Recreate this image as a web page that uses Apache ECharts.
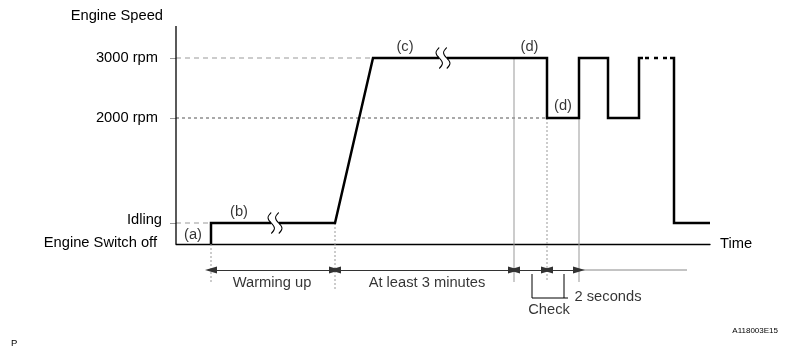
<!DOCTYPE html>
<html>
<head>
<meta charset="utf-8">
<script src="https://cdn.jsdelivr.net/npm/echarts@6/dist/echarts.min.js"></script>
<style>
  html, body { margin: 0; padding: 0; background: #fff; }
  #main { width: 788px; height: 356px; }
</style>
</head>
<body>
<div id="main"></div>
<script>
// schematic units: x = time, y = engine speed level (switch off = 0)
var yTickValues = [0, 21, 126, 186];
var yTickLabels = ['Engine Switch off', 'Idling', '2000 rpm', '3000 rpm'];

// engine speed trace ('-' = break mark on the line)
var traceTime  = [35, 35, 95, '-', 103, 159, 197, 263, '-', 271, 371, 371, 403, 403, 432, 432, 463, 463, 467];
var traceLevel = [0, 21, 21, '-', 21, 21, 186, 186, '-', 186, 186, 126, 126, 186, 186, 126, 126, 186, 186];
var dashTime  = [469, 493];
var dashLevel = [186, 186];
var tailTime  = [494, 498, 498, 534];
var tailLevel = [186, 186, 21, 21];

var breakTime  = [99, 267];
var breakLevel = [21, 186];

// dashed level guides
var hGuideLevel = [186, 126, 21];
var hGuideEnd   = [197, 371, 35];

// vertical time markers
var vGuideTime   = [35, 159, 338, 371, 403];
var vGuideTop    = [0, 21, 186, 126, 126];
var vGuideBottom = [-38, -46, -38, -38, -38];
var vGuideDotted = [true, true, false, true, false];

// time spans under the axis
var spanEdges = [35, 159, 338, 371, 403];
var spanTailEnd = 511;
var spanLevel = -26;

var checkTime = [356, 388, 392];
var checkTop = -30;
var checkBottom = -54;

var annoText  = ['(a)', '(b)', '(c)', '(d)', '(d)', 'Warming up', 'At least 3 minutes', 'Check', '2 seconds'];
var annoTime  = [17, 63, 229, 353.5, 387, 96, 251, 373, 432];
var annoLevel = [9, 32, 197, 197, 138, -38.5, -38.5, -66, -53];

var FONT = "'Liberation Sans', Arial, sans-serif";
var FS = 14.7;

function pairs(xs, ys) {
  return xs.map(function (x, i) {
    return x === '-' ? '-' : [x, ys[i]];
  });
}

var chart = echarts.init(document.getElementById('main'), null, { renderer: 'canvas' });

var series = [];

// y axis line (only up from switch off)
series.push({
  type: 'line', symbol: 'none', silent: true, z: 5,
  data: [[0, 0], [0, 218]],
  lineStyle: { color: '#000', width: 1.3 }
});

hGuideLevel.forEach(function (lv, i) {
  series.push({
    type: 'line', symbol: 'none', silent: true, z: 1,
    data: [[0, lv], [hGuideEnd[i], lv]],
    lineStyle: i == 1 ? { color: '#555', width: 1, type: [3, 3] }
                      : { color: '#999', width: 1, type: [5, 4] }
  });
});

vGuideTime.forEach(function (t, i) {
  series.push({
    type: 'line', symbol: 'none', silent: true, z: 1,
    data: [[t, vGuideTop[i]], [t, vGuideBottom[i]]],
    lineStyle: vGuideDotted[i] ? { color: '#999', width: 1, type: [2, 2] }
                               : { color: '#999', width: 1 }
  });
});

// span arrows
var spanPairs = [];
for (var i = 0; i < spanEdges.length - 1; i++) {
  spanPairs.push([{ coord: [spanEdges[i], spanLevel] }, { coord: [spanEdges[i + 1], spanLevel] }]);
}
series.push({
  type: 'line', data: [], silent: true,
  markLine: {
    silent: true, animation: false,
    symbol: ['triangle', 'triangle'],
    symbolSize: [7, 12],
    label: { show: false },
    lineStyle: { color: '#333', width: 1, type: 'solid' },
    data: spanPairs
  }
});
series.push({
  type: 'line', symbol: 'none', silent: true,
  data: [[spanEdges[spanEdges.length - 1], spanLevel], [spanTailEnd, spanLevel]],
  lineStyle: { color: '#888', width: 1 }
});

// check bracket
series.push({
  type: 'line', symbol: 'none', silent: true,
  data: [[checkTime[0], checkTop], [checkTime[0], checkBottom], [checkTime[2], checkBottom]],
  lineStyle: { color: '#000', width: 1 }
});
series.push({
  type: 'line', symbol: 'none', silent: true,
  data: [[checkTime[1], checkBottom], [checkTime[1], checkTop]],
  lineStyle: { color: '#000', width: 1 }
});

// engine speed
var traceStyle = { color: '#000', width: 2.5, join: 'miter', cap: 'butt' };
series.push({
  type: 'line', symbol: 'none', silent: true, z: 4, connectNulls: false,
  data: pairs(traceTime, traceLevel),
  lineStyle: traceStyle
});
series.push({
  type: 'line', symbol: 'none', silent: true, z: 4,
  data: pairs(dashTime, dashLevel),
  lineStyle: { color: '#000', width: 2.5, type: [4, 5], cap: 'butt' }
});
series.push({
  type: 'line', symbol: 'none', silent: true, z: 4,
  data: pairs(tailTime, tailLevel),
  lineStyle: traceStyle
});

// break marks
series.push({
  type: 'scatter', silent: true, z: 6, clip: false,
  symbol: 'path://M4,0 C0,4 0,6 4,10 C8,14 8,16 4,20 M11,0 C7,4 7,6 11,10 C15,14 15,16 11,20',
  symbolSize: [14, 21],
  itemStyle: { color: 'rgba(0,0,0,0)', borderColor: '#000', borderWidth: 1.2, opacity: 1 },
  data: pairs(breakTime, breakLevel)
});

// annotations
series.push({
  type: 'scatter', silent: true, z: 7, clip: false,
  symbolSize: 0,
  data: annoText.map(function (t, i) { return { value: [annoTime[i], annoLevel[i]], name: t }; }),
  label: {
    show: true, position: 'inside',
    formatter: function (p) { return p.name; },
    color: '#000', fontFamily: FONT, fontSize: FS
  }
});

function rich(pad) {
  return { fontFamily: FONT, fontSize: FS, color: '#000', padding: pad };
}

chart.setOption({
  animation: false,
  backgroundColor: '#fff',
  grid: { left: 176, right: 78, top: 26, bottom: 0, containLabel: false },
  xAxis: {
    type: 'value', min: 0, max: 534,
    name: 'Time', nameLocation: 'end', nameGap: 10,
    nameTextStyle: { color: '#000', fontFamily: FONT, fontSize: FS, verticalAlign: 'middle', padding: [3, 0, 0, 0] },
    axisLine: { show: true, onZero: true, lineStyle: { color: '#000', width: 1.3 } },
    axisTick: { show: false },
    axisLabel: { show: false },
    splitLine: { show: false }
  },
  yAxis: {
    type: 'value', min: -112, max: 218,
    name: 'Engine Speed', nameLocation: 'end', nameGap: 10,
    nameTextStyle: { color: '#000', fontFamily: FONT, fontSize: FS, align: 'right', verticalAlign: 'middle', padding: [0, 13, 0, 0] },
    axisLine: { show: false },
    axisTick: { show: true, customValues: yTickValues.slice(1), length: 6, lineStyle: { color: '#999', width: 1 } },
    axisLabel: {
      show: true, margin: 14,
      customValues: yTickValues,
      formatter: function (v) {
        var k = yTickValues.indexOf(v);
        if (k < 0) return '';
        return '{l' + k + '|' + yTickLabels[k] + '}';
      },
      rich: {
        l0: rich([0, 5, 3, 0]),
        l1: rich([0, 0, 6, 0]),
        l2: rich([0, 4, 0, 0]),
        l3: rich([0, 4, 0, 0])
      },
      color: '#000', fontFamily: FONT, fontSize: FS
    },
    splitLine: { show: false }
  },
  graphic: [
    { type: 'text', left: 11, top: 338, silent: true,
      style: { text: 'P', fontFamily: FONT, fontSize: 9.5, fill: '#000' } },
    { type: 'text', right: 10, top: 327, silent: true,
      style: { text: 'A118003E15', fontFamily: FONT, fontSize: 8, fill: '#000' } }
  ],
  series: series
});
</script>
</body>
</html>
